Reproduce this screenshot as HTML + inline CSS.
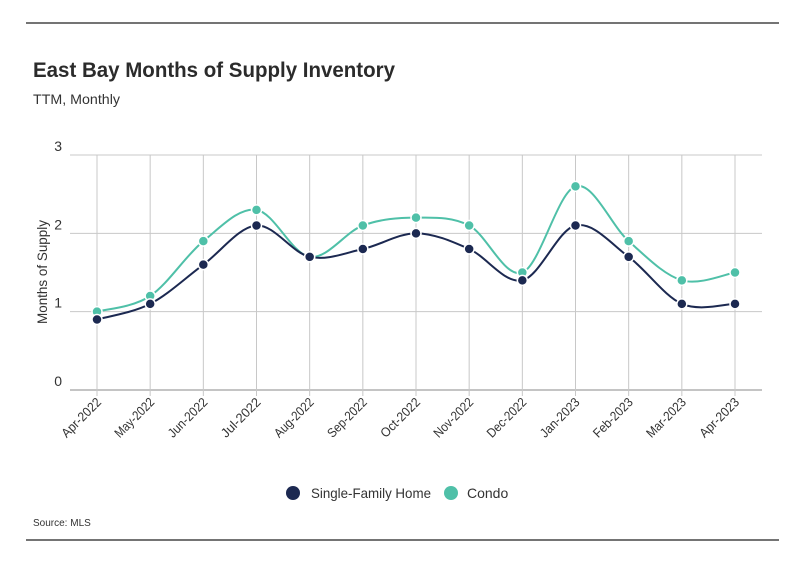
<!DOCTYPE html>
<html><head><meta charset="utf-8"><style>
body{margin:0;background:#fff;font-family:"Liberation Sans",sans-serif;}
svg text{font-family:"Liberation Sans",sans-serif;}
</style></head><body>
<svg id="chart" width="799" height="575" xmlns="http://www.w3.org/2000/svg">
<line x1="26" y1="23" x2="779" y2="23" stroke="#222" stroke-width="1.2"/>
<line x1="26" y1="540" x2="779" y2="540" stroke="#222" stroke-width="1.2"/>
<text x="33" y="77" font-size="21" font-weight="bold" fill="#2b2b2b" textLength="362" lengthAdjust="spacingAndGlyphs">East Bay Months of Supply Inventory</text>
<text x="33" y="104" font-size="14" fill="#333" textLength="87" lengthAdjust="spacingAndGlyphs">TTM, Monthly</text>
<text transform="translate(47,272) rotate(-90)" text-anchor="middle" font-size="14" fill="#333" textLength="104" lengthAdjust="spacingAndGlyphs">Months of Supply</text>
<g id="grid"></g><g id="series"></g>
<g>
<circle cx="293" cy="493" r="7" fill="#1c2951"/>
<text x="311" y="498" font-size="14" fill="#333" textLength="120" lengthAdjust="spacingAndGlyphs">Single-Family Home</text>
<circle cx="451" cy="493" r="7" fill="#4fc0a8"/>
<text x="467" y="498" font-size="14" fill="#333">Condo</text>
</g>
<text x="33" y="526" font-size="10" fill="#333">Source:  MLS</text>
</svg>
<script>
const categories=["Apr-2022","May-2022","Jun-2022","Jul-2022","Aug-2022","Sep-2022","Oct-2022","Nov-2022","Dec-2022","Jan-2023","Feb-2023","Mar-2023","Apr-2023"];
const sfhValues=[0.9,1.1,1.6,2.1,1.7,1.8,2.0,1.8,1.4,2.1,1.7,1.1,1.1];
const condoValues=[1.0,1.2,1.9,2.3,1.7,2.1,2.2,2.1,1.5,2.6,1.9,1.4,1.5];
const yTicks=[0,1,2,3];
const NS="http://www.w3.org/2000/svg";
const x=i=>97+i*(735-97)/(categories.length-1);
const y=v=>390-v*(390-155)/3;
const grid=document.getElementById('grid'),ser=document.getElementById('series');
function mk(tag,attrs,parent){const e=document.createElementNS(NS,tag);for(const k in attrs)e.setAttribute(k,attrs[k]);parent.appendChild(e);return e;}
yTicks.forEach(t=>{
  const l=mk('line',{x1:70,x2:762,y1:y(t),y2:y(t),stroke:t===0?'#888':'#c8c8c8','stroke-width':1},grid);
  
  
  const tx=mk('text',{x:62,y:y(t)-4,'font-size':14,fill:'#333','text-anchor':'end'},grid);
  tx.textContent=t;
  
  
});
categories.forEach((c,i)=>{
  const l=mk('line',{x1:x(i),x2:x(i),y1:155,y2:396,stroke:'#c8c8c8','stroke-width':1},grid);
  
  
  const tx=mk('text',{transform:`translate(${x(i)+5},${403}) rotate(-45)`,'font-size':13,fill:'#333','text-anchor':'end',textLength:50,lengthAdjust:'spacingAndGlyphs'},grid);
  tx.textContent=c;
  
  
});
function path(vals){
  const p=vals.map((v,i)=>[x(i),y(v)]);let d=`M${p[0][0]},${p[0][1]}`;
  for(let i=0;i<p.length-1;i++){const p0=p[i-1]||p[i],p1=p[i],p2=p[i+1],p3=p[i+2]||p2;const t=6;
    d+=` C${p1[0]+(p2[0]-p0[0])/t},${p1[1]+(p2[1]-p0[1])/t} ${p2[0]-(p3[0]-p1[0])/t},${p2[1]-(p3[1]-p1[1])/t} ${p2[0]},${p2[1]}`;}
  return d;}
[[condoValues,'#4fc0a8','condo'],[sfhValues,'#1c2951','sfh']].forEach(([vals,col,nm])=>{
  const pa=mk('path',{d:path(vals),fill:'none',stroke:col,'stroke-width':2},ser);
  
  
});
[[condoValues,'#4fc0a8','condo'],[sfhValues,'#1c2951','sfh']].forEach(([vals,col,nm])=>{
  vals.forEach((v,i)=>{const c=mk('circle',{cx:x(i),cy:y(v),r:5,fill:col,stroke:'#fff','stroke-width':1.5},ser);
    
    });
});
</script>
</body></html>
